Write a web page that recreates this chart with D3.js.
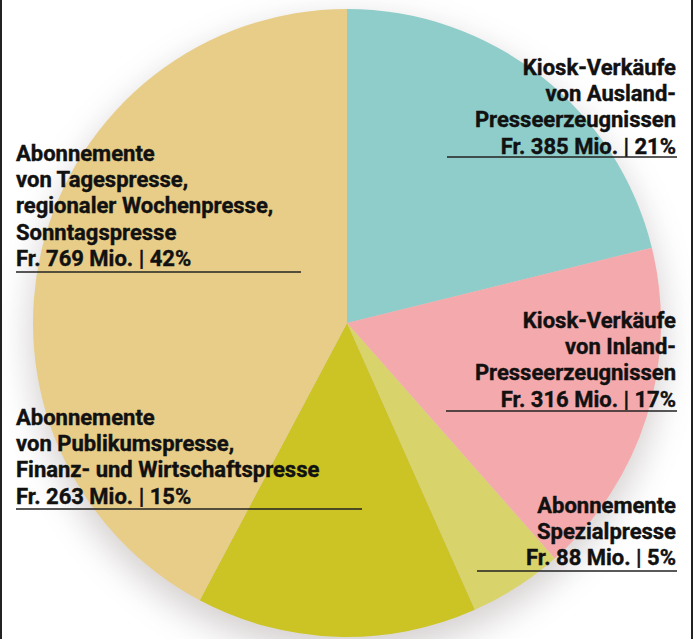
<!DOCTYPE html>
<html>
<head>
<meta charset="utf-8">
<script src="https://cdn.jsdelivr.net/npm/d3@7"></script>
<style>
  html, body { margin: 0; padding: 0; background: #fff; }
  svg { display: block; }
</style>
</head>
<body>
<svg id="chart" width="693" height="639"></svg>
<script>
// ---- data ----
const categories = [
  ["Kiosk-Verkäufe", "von Ausland-", "Presseerzeugnissen"],
  ["Kiosk-Verkäufe", "von Inland-", "Presseerzeugnissen"],
  ["Abonnemente", "Spezialpresse"],
  ["Abonnemente", "von Publikumspresse,", "Finanz- und Wirtschaftspresse"],
  ["Abonnemente", "von Tagespresse,", "regionaler Wochenpresse,", "Sonntagspresse"]
];
const valuesMio = [385, 316, 88, 263, 769];
const percents = [21, 17, 5, 15, 42];
const colors = ["#8ecdc9", "#f4aaac", "#d9d36b", "#cbc424", "#e7cd88"];

// ---- layout (not data) ----
const W = 693, H = 639;
const cx = 347, cy = 323, R = 314;
const lineH = 26.2;
const labelLayout = [
  { anchor: "end",   x: 676, y: 75,  ux1: 447, ux2: 677, uy: 157 },
  { anchor: "end",   x: 676, y: 328, ux1: 446, ux2: 677, uy: 411 },
  { anchor: "end",   x: 676, y: 513, ux1: 477, ux2: 677, uy: 571 },
  { anchor: "start", x: 16,  y: 425, ux1: 16,  ux2: 362, uy: 509 },
  { anchor: "start", x: 16,  y: 161, ux1: 16,  ux2: 301, uy: 272 }
];

const svg = d3.select("#chart");
const defs = svg.append("defs");
const f = defs.append("filter").attr("id", "shadow")
  .attr("x", "-30%").attr("y", "-30%").attr("width", "160%").attr("height", "160%");
f.append("feGaussianBlur").attr("stdDeviation", 16);

// shadow
svg.append("circle")
  .attr("cx", cx).attr("cy", cy + 14).attr("r", R + 4)
  .attr("fill", "#8c7f80").attr("opacity", 0.34)
  .attr("filter", "url(#shadow)");

const pie = d3.pie().sort(null).value(d => d)(valuesMio);
const arc = d3.arc().innerRadius(0).outerRadius(R);

svg.append("g").attr("transform", `translate(${cx},${cy})`)
  .selectAll("path").data(pie).join("path")
  .attr("d", arc)
  .attr("fill", (d, i) => colors[i]);

// labels
const fmtLine = i => `Fr. ${valuesMio[i]} Mio. | ${percents[i]}%`;
const lg = svg.append("g")
  .attr("font-family", "Roboto, 'Liberation Sans', sans-serif")
  .attr("font-weight", "bold")
  .attr("font-size", 22)
  .attr("fill", "#111")
  .attr("stroke", "#111")
  .attr("stroke-width", 0.4);

categories.forEach((lines, i) => {
  const L = labelLayout[i];
  const all = lines.concat([fmtLine(i)]);
  const t = lg.append("text")
    .attr("text-anchor", L.anchor)
    .attr("x", L.x).attr("y", L.y);
  all.forEach((s, k) => {
    t.append("tspan").attr("x", L.x).attr("y", L.y + k * lineH).text(s);
  });
  svg.append("line")
    .attr("x1", L.ux1).attr("x2", L.ux2)
    .attr("y1", L.uy).attr("y2", L.uy)
    .attr("stroke", "#222").attr("stroke-width", 1.6);
});

// frame side lines
svg.append("rect").attr("x", 0).attr("y", 0).attr("width", 2).attr("height", H).attr("fill", "#222");
svg.append("rect").attr("x", 691).attr("y", 0).attr("width", 2).attr("height", H).attr("fill", "#222");
</script>
</body>
</html>
